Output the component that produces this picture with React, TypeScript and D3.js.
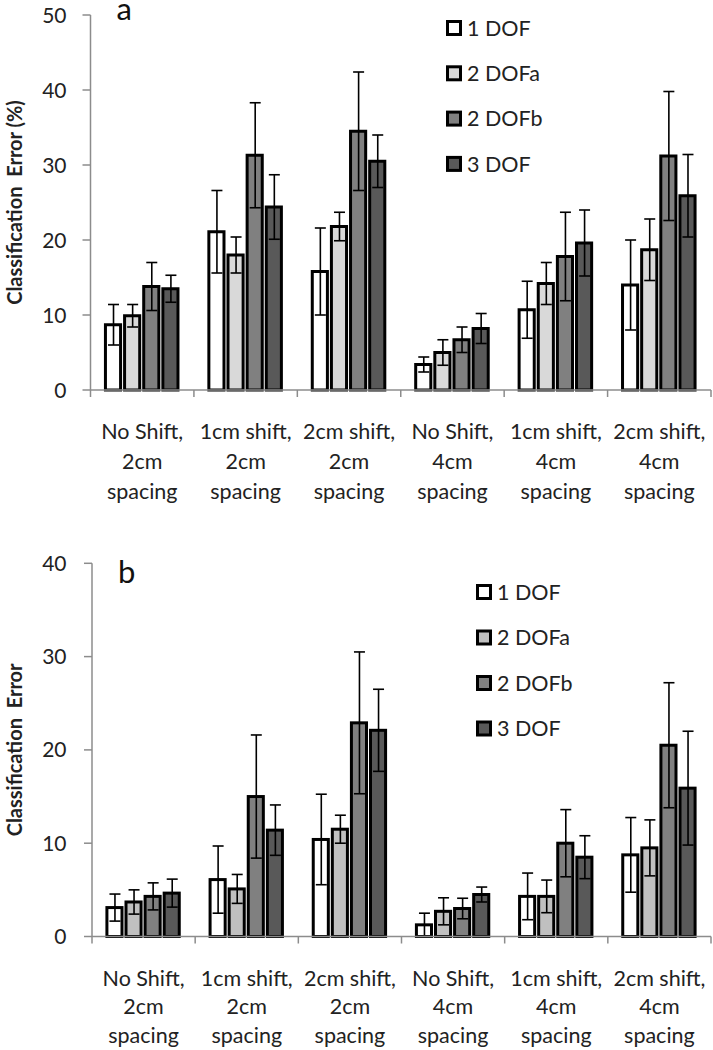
import * as d3 from 'd3';

const categories = [
  ['No Shift,', '2cm', 'spacing'],
  ['1cm shift,', '2cm', 'spacing'],
  ['2cm shift,', '2cm', 'spacing'],
  ['No Shift,', '4cm', 'spacing'],
  ['1cm shift,', '4cm', 'spacing'],
  ['2cm shift,', '4cm', 'spacing'],
];
const series = ['1 DOF', '2 DOFa', '2 DOFb', '3 DOF'];

// panel a: mean classification error (%) and error bar half-lengths
const meansA1DOF = [8.7, 21.1, 15.8, 3.4, 10.7, 14.0];
const meansA2DOFa = [9.9, 18.0, 21.8, 5.0, 14.2, 18.7];
const meansA2DOFb = [13.8, 31.3, 34.5, 6.7, 17.8, 31.2];
const meansA3DOF = [13.5, 24.4, 30.5, 8.2, 19.6, 25.9];
const errA1DOF = [2.7, 5.5, 5.8, 1.0, 3.8, 6.0];
const errA2DOFa = [1.5, 2.4, 1.9, 1.7, 2.8, 4.1];
const errA2DOFb = [3.2, 7.0, 7.9, 1.7, 5.9, 8.6];
const errA3DOF = [1.8, 4.3, 3.5, 2.0, 4.4, 5.5];

// panel b
const meansB1DOF = [3.1, 6.1, 10.4, 1.25, 4.3, 8.75];
const meansB2DOFa = [3.7, 5.1, 11.5, 2.7, 4.3, 9.5];
const meansB2DOFb = [4.3, 15.0, 22.9, 3.0, 10.0, 20.5];
const meansB3DOF = [4.65, 11.4, 22.1, 4.5, 8.5, 15.9];
const errB1DOF = [1.45, 3.6, 4.85, 1.25, 2.5, 4.0];
const errB2DOFa = [1.3, 1.55, 1.5, 1.45, 1.75, 3.0];
const errB2DOFb = [1.45, 6.6, 7.6, 1.1, 3.6, 6.7];
const errB3DOF = [1.5, 2.7, 4.4, 0.8, 2.3, 6.1];

const ticksA = [0, 10, 20, 30, 40, 50];
const ticksB = [0, 10, 20, 30, 40];

const FONT = 'Lato, "Open Sans", sans-serif';

type PanelProps = {
  letter: string;
  letterY: number;
  yLabel: string;
  means: number[][];
  errs: number[][];
  ticks: number[];
  fills: string[];
  top: number;
  bottom: number;
  left: number;
  right: number;
  legendX: number;
  legendY: number;
  legendStep: number;
  labelY: number;
  labelStep: number;
};

function Panel(p: PanelProps) {
  const y = d3
    .scaleLinear()
    .domain([0, d3.max(p.ticks)!])
    .range([p.bottom, p.top]);
  const x = d3
    .scaleBand()
    .domain(categories.map((_, i) => String(i)))
    .range([p.left, p.right])
    .padding(0);
  const groupW = x.bandwidth() * 0.74;
  const inner = d3
    .scaleBand()
    .domain(series)
    .range([0, groupW])
    .padding(0);
  const bw = inner.bandwidth();
  const mid = (p.top + p.bottom) / 2;

  return (
    <g fontFamily={FONT}>
      {/* y axis */}
      <line x1={p.left} x2={p.left} y1={p.top} y2={p.bottom} stroke="#8c8c8c" strokeWidth={1.5} />
      {p.ticks.map((t) => (
        <g key={t}>
          <line x1={p.left - 8} x2={p.left} y1={y(t)} y2={y(t)} stroke="#8c8c8c" strokeWidth={1.5} />
          <text x={66.5} y={y(t)} dy="0.36em" textAnchor="end" fontSize={21} fill="#222">
            {t}
          </text>
        </g>
      ))}
      <text
        transform={`translate(22, ${mid}) rotate(-90)`}
        textAnchor="middle"
        fontSize={20}
        fontWeight="bold"
        fill="#222"
        style={{ whiteSpace: 'pre' }}
      >
        {p.yLabel}
      </text>
      <text x={p.left + 26} y={p.letterY} fontSize={31} fill="#111">
        {p.letter}
      </text>

      {/* bars */}
      {categories.map((_, ci) => {
        const gx = x(String(ci))! + (x.bandwidth() - groupW) / 2;
        return (
          <g key={ci}>
            {series.map((s, si) => {
              const v = p.means[si][ci];
              const e = p.errs[si][ci];
              const bx = gx + inner(s)!;
              const cx = bx + bw / 2;
              const lo = y(Math.max(0, v - e));
              const hi = y(v + e);
              return (
                <g key={s}>
                  <rect
                    x={bx + 1.5}
                    y={y(v)}
                    width={bw - 4}
                    height={p.bottom - y(v)}
                    fill={p.fills[si]}
                    stroke="#000"
                    strokeWidth={3}
                  />
                  <line x1={cx} x2={cx} y1={lo} y2={hi} stroke="#000" strokeWidth={1.6} />
                  <line x1={cx - 5.5} x2={cx + 5.5} y1={hi} y2={hi} stroke="#000" strokeWidth={1.6} />
                  <line x1={cx - 5.5} x2={cx + 5.5} y1={lo} y2={lo} stroke="#000" strokeWidth={1.6} />
                </g>
              );
            })}
          </g>
        );
      })}

      {/* x axis */}
      <line x1={p.left} x2={p.right} y1={p.bottom} y2={p.bottom} stroke="#8c8c8c" strokeWidth={1.5} />
      {d3.range(categories.length + 1).map((i) => {
        const tx = i < categories.length ? x(String(i))! : p.right;
        return <line key={i} x1={tx} x2={tx} y1={p.bottom} y2={p.bottom + 7} stroke="#8c8c8c" strokeWidth={1.5} />;
      })}
      {categories.map((lines, ci) => (
        <text key={ci} textAnchor="middle" fontSize={21.5} fill="#222">
          {lines.map((l, li) => (
            <tspan key={li} x={x(String(ci))! + x.bandwidth() / 2} y={p.labelY + li * p.labelStep} dy="0.36em">
              {l}
            </tspan>
          ))}
        </text>
      ))}

      {/* legend */}
      {series.map((s, si) => (
        <g key={s} transform={`translate(${p.legendX}, ${p.legendY + si * p.legendStep})`}>
          <rect x={1.5} y={-6.5} width={13} height={13} fill={p.fills[si]} stroke="#000" strokeWidth={3} />
          <text x={21} y={0} dy="0.36em" fontSize={21.5} fill="#222">
            {s}
          </text>
        </g>
      ))}
    </g>
  );
}

export default function App() {
  return (
    <svg width={713} height={1050} style={{ position: 'absolute', left: 0, top: 0, background: '#fff' }}>
      <Panel
        letter="a"
        letterY={20}
        yLabel="Classification  Error (%)"
        means={[meansA1DOF, meansA2DOFa, meansA2DOFb, meansA3DOF]}
        errs={[errA1DOF, errA2DOFa, errA2DOFb, errA3DOF]}
        ticks={ticksA}
        fills={['#ffffff', '#d9d9d9', '#808080', '#595959']}
        top={15}
        bottom={390}
        left={90.5}
        right={711}
        legendX={446}
        legendY={28}
        legendStep={45.3}
        labelY={431}
        labelStep={30}
      />
      <Panel
        letter="b"
        letterY={583}
        yLabel="Classification  Error"
        means={[meansB1DOF, meansB2DOFa, meansB2DOFb, meansB3DOF]}
        errs={[errB1DOF, errB2DOFa, errB2DOFb, errB3DOF]}
        ticks={ticksB}
        fills={['#ffffff', '#c0c0c0', '#808080', '#595959']}
        top={563.3}
        bottom={936.5}
        left={92}
        right={711}
        legendX={476}
        legendY={592}
        legendStep={45.5}
        labelY={978}
        labelStep={28.5}
      />
    </svg>
  );
}
